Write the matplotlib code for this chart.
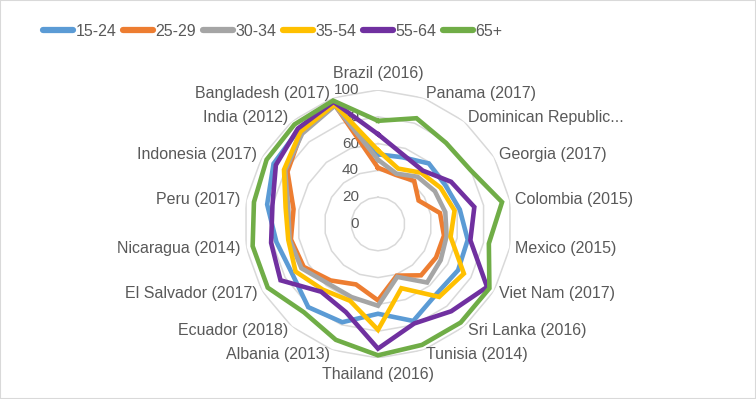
import numpy as np
import matplotlib
matplotlib.use("Agg")
import matplotlib.pyplot as plt
from matplotlib.patches import Rectangle
from matplotlib.transforms import offset_copy

plt.rcParams["font.family"] = ["Liberation Sans", "DejaVu Sans"]

categories = [
    "Brazil (2016)", "Panama (2017)", "Dominican Republic...", "Georgia (2017)",
    "Colombia (2015)", "Mexico (2015)", "Viet Nam (2017)", "Sri Lanka (2016)",
    "Tunisia (2014)", "Thailand (2016)", "Albania (2013)", "Ecuador (2018)",
    "El Salvador (2017)", "Nicaragua (2014)", "Peru (2017)", "Indonesia (2017)",
    "India (2012)", "Bangladesh (2017)",
]
age_groups = ["15-24", "25-29", "30-34", "35-54", "55-64", "65+"]
colors = ["#5B9BD5", "#ED7D31", "#A5A5A5", "#FFC000", "#7030A0", "#70AD47"]

v_15_24 = [52, 53, 59, 58, 62, 68, 69, 68, 77, 67, 78, 81, 74, 77, 84, 90, 92, 95]
v_25_29 = [42, 39, 42, 35, 47, 50, 50, 50, 41, 57, 48, 55, 64, 66, 64, 78, 89, 95]
v_30_34 = [48, 40, 46, 49, 51, 52, 54, 57, 42, 61, 58, 58, 66, 67, 68, 80, 88, 94]
v_35_54 = [55, 44, 50, 54, 58, 55, 74, 71, 51, 79, 61, 64, 71, 68, 70, 81, 90, 95]
v_55_64 = [67, 55, 52, 63, 73, 70, 94, 85, 79, 93, 70, 66, 84, 81, 80, 88, 93, 97]
v_65p = [77, 84, 79, 80, 94, 84, 96, 96, 96, 98, 92, 86, 95, 95, 94, 96, 97, 98]
series = [v_15_24, v_25_29, v_30_34, v_35_54, v_55_64, v_65p]

ring_values = [20, 40, 60, 80, 100]
txt = "#595959"

W, H = 756, 399
fig = plt.figure(figsize=(W / 100, H / 100), dpi=100)
fig.patches.append(Rectangle((0, 0), 1, 1, transform=fig.transFigure, fill=False,
                             edgecolor="#d9d9d9", linewidth=1.5))

# axe polaire : centre (378, 224) px, rayon 134 px
cx, cy, R = 378, 224, 134
ax = fig.add_axes([(cx - R) / W, (H - cy - R) / H, 2 * R / W, 2 * R / H], projection="polar")
ax.set_theta_offset(np.pi / 2)
ax.set_theta_direction(-1)
ax.set_ylim(0, 100)
ax.grid(False)
ax.set_xticks([])
ax.set_yticks([])
ax.spines["polar"].set_visible(False)
ax.patch.set_alpha(0)

n = len(categories)
theta = np.linspace(0, 2 * np.pi, n, endpoint=False)
theta_c = np.append(theta, theta[0])

# grille polygonale
for rv in ring_values:
    ax.plot(theta_c, [rv] * (n + 1), color="#d9d9d9", lw=1.1, zorder=1)

for name, vals, c in zip(age_groups, series, colors):
    ax.plot(theta_c, vals + vals[:1], color=c, lw=3.3, label=name, zorder=3,
            solid_joinstyle="miter")

# étiquettes de l'axe radial, à gauche de l'axe vertical
tr = offset_copy(ax.transData, fig=fig, x=-19, y=0, units="dots")
for rv in [0] + ring_values:
    ax.text(0, rv, str(rv), transform=tr, ha="right", va="center", fontsize=11,
            color=txt, zorder=2)

# étiquettes des catégories
for t, lab in zip(theta, categories):
    s = np.sin(t)
    if abs(s) < 1e-6:
        ha = "center"
        va = "bottom" if np.cos(t) > 0 else "top"
        r = 107
    else:
        ha = "left" if s > 0 else "right"
        va = "center"
        r = 104
    ax.text(t, r, lab, ha=ha, va=va, fontsize=11.5, color=txt, clip_on=False)

leg = fig.legend(loc="center left", bbox_to_anchor=(30 / W, 1 - 31 / H), ncol=6,
                 frameon=False, fontsize=11.5, handlelength=1.9, handletextpad=0.15,
                 columnspacing=0.4, labelcolor=txt, borderpad=0.3)
for h in leg.get_lines():
    h.set_linewidth(4.5)
    h.set_solid_capstyle("round")

fig.savefig("out.png", dpi=100)
